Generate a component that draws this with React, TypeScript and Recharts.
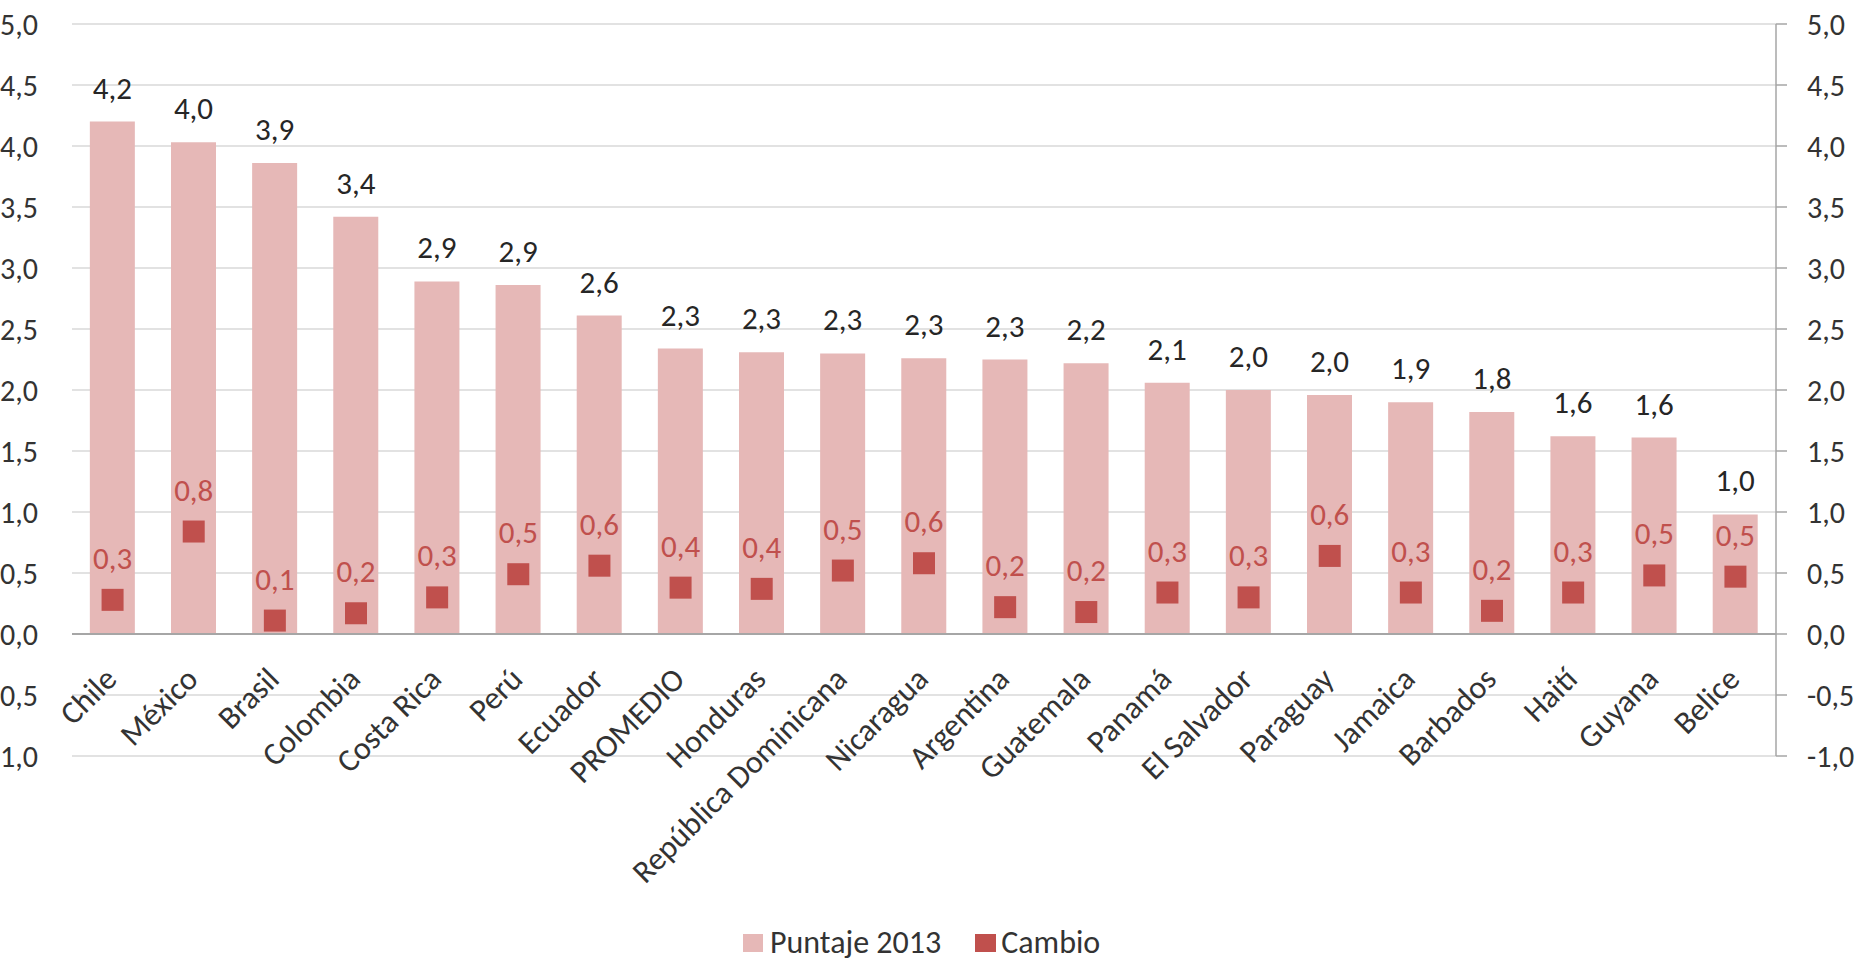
import React from "react";
import {
  ComposedChart,
  Bar,
  Line,
  XAxis,
  YAxis,
  CartesianGrid,
  ReferenceLine,
  LabelList,
  Legend,
} from "recharts";

const paises = [
  "Chile",
  "México",
  "Brasil",
  "Colombia",
  "Costa Rica",
  "Perú",
  "Ecuador",
  "PROMEDIO",
  "Honduras",
  "República Dominicana",
  "Nicaragua",
  "Argentina",
  "Guatemala",
  "Panamá",
  "El Salvador",
  "Paraguay",
  "Jamaica",
  "Barbados",
  "Haití",
  "Guyana",
  "Belice",
];

const puntaje2013 = [
  4.2, 4.03, 3.86, 3.42, 2.89, 2.86, 2.61, 2.34, 2.31, 2.3, 2.26, 2.25, 2.22,
  2.06, 2.0, 1.96, 1.9, 1.82, 1.62, 1.61, 0.98,
];

const cambio = [
  0.28, 0.84, 0.11, 0.17, 0.3, 0.49, 0.56, 0.38, 0.37, 0.52, 0.58, 0.22, 0.18,
  0.34, 0.3, 0.64, 0.34, 0.19, 0.34, 0.48, 0.47,
];

const yTicks = [-1, -0.5, 0, 0.5, 1, 1.5, 2, 2.5, 3, 3.5, 4, 4.5, 5];

const data = paises.map((pais, i) => ({
  pais,
  puntaje: puntaje2013[i],
  cambio: cambio[i],
}));

const PINK = "#E6B8B7";
const RED = "#C0504D";
const TEXT = "#333333";
const FONT = "Carlito, Calibri, Lato, sans-serif";

const fmt = (v: number) => v.toFixed(1).replace(".", ",");

const CountryTick = (props: any) => {
  const { x, y, payload } = props;
  return (
    <g transform={`translate(${x + 6},${y - 75})`}>
      <text textAnchor="end" transform="rotate(-45)" fill={TEXT} fontSize={32}>
        {payload.value}
      </text>
    </g>
  );
};

const CambioDot = (props: any) => {
  const { cx, cy, value, index } = props;
  if (cx == null || cy == null) return <g key={`d${index}`} />;
  return (
    <g key={`d${index}`}>
      <rect x={cx - 11} y={cy - 11} width={22} height={22} fill={RED} />
      <text x={cx} y={cy - 31} textAnchor="middle" fill={RED} fontSize={31}>
        {fmt(value)}
      </text>
    </g>
  );
};

const LegendBox = () => (
  <div
    style={{
      display: "flex",
      alignItems: "center",
      height: 36,
      fontSize: 32,
      lineHeight: 1,
      color: TEXT,
      fontFamily: FONT,
      whiteSpace: "nowrap",
    }}
  >
    <span style={{ width: 20, height: 18, background: PINK, marginRight: 7 }} />
    <span style={{ marginRight: 34 }}>Puntaje 2013</span>
    <span style={{ width: 21, height: 18, background: RED, marginRight: 5 }} />
    <span>Cambio</span>
  </div>
);

export default function App() {
  return (
    <div
      style={{
        position: "absolute",
        left: 0,
        top: 0,
        width: 1876,
        height: 961,
        background: "#fff",
        fontFamily: FONT,
        overflow: "hidden",
      }}
    >
      <ComposedChart
        width={1876}
        height={961}
        data={data}
        margin={{ top: 24, right: 0, bottom: 0, left: 0 }}
        barCategoryGap="22%"
      >
        <CartesianGrid
          yAxisId="left"
          vertical={false}
          stroke="#d9d9d9"
          strokeWidth={1.5}
        />
        <XAxis
          dataKey="pais"
          interval={0}
          axisLine={false}
          tickLine={false}
          tickSize={0}
          tickMargin={0}
          height={169}
          tick={<CountryTick />}
        />
        <YAxis
          yAxisId="left"
          domain={[-1, 5]}
          ticks={yTicks}
          interval={0}
          width={72}
          axisLine={false}
          tickLine={false}
          tickSize={0}
          tickMargin={34}
          tickFormatter={fmt}
          tick={{ fill: TEXT, fontSize: 30 }}
        />
        <YAxis
          yAxisId="right"
          orientation="right"
          domain={[-1, 5]}
          ticks={yTicks}
          interval={0}
          width={100}
          axisLine={{ stroke: "#a6a6a6", strokeWidth: 1.5 }}
          tickLine={{ stroke: "#a6a6a6", strokeWidth: 1.5 }}
          tickSize={11}
          tickMargin={20}
          tickFormatter={fmt}
          tick={{ fill: TEXT, fontSize: 30 }}
        />
        <ReferenceLine yAxisId="left" y={0} stroke="#a6a6a6" strokeWidth={2} />
        <Bar
          yAxisId="left"
          dataKey="puntaje"
          name="Puntaje 2013"
          fill={PINK}
          isAnimationActive={false}
        >
          <LabelList
            dataKey="puntaje"
            position="top"
            offset={23}
            formatter={(v: any) => fmt(Number(v))}
            fill="#262626"
            fontSize={31}
          />
        </Bar>
        <Line
          yAxisId="right"
          dataKey="cambio"
          name="Cambio"
          stroke="none"
          dot={CambioDot}
          activeDot={false}
          isAnimationActive={false}
        />
        <Legend
          verticalAlign="bottom"
          content={<LegendBox />}
          wrapperStyle={{ left: 743, width: 440, bottom: 0 }}
        />
      </ComposedChart>
    </div>
  );
}
